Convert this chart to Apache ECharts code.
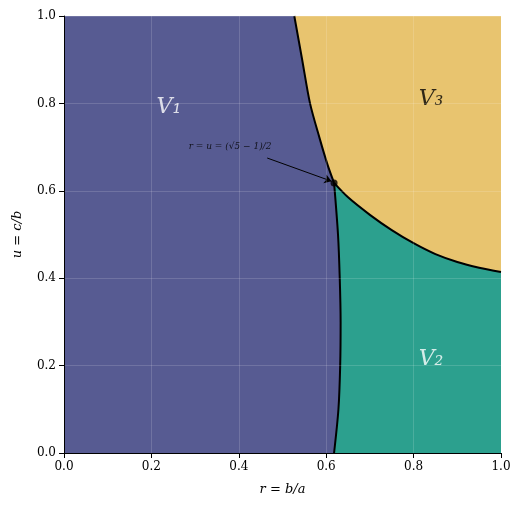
<!DOCTYPE html><html><head><meta charset="utf-8">
<script src="https://cdn.jsdelivr.net/npm/echarts@6/dist/echarts.min.js"></script>
<style>html,body{margin:0;background:#fff}#c{width:523px;height:509px}</style></head><body><div id="c"></div>
<script>
const xTicks=[0,0.2,0.4,0.6,0.8,1.0];
const curveV1V3=[[0.527,1],[0.545,0.9],[0.563,0.8],[0.585,0.72],[0.603,0.66],[0.618,0.618]];
const curveV1V2=[[0.618,0.618],[0.627,0.5],[0.631,0.4],[0.633,0.3],[0.632,0.2],[0.628,0.1],[0.618,0]];
const curveV3V2=[[0.618,0.618],[0.65,0.585],[0.7,0.545],[0.75,0.51],[0.8,0.48],[0.85,0.455],[0.9,0.437],[0.95,0.424],[1,0.414]];
const triple=[0.618,0.618];
const regionLabels=[{n:'V₁',p:[0.24,0.79],c:'#fff'},{n:'V₃',p:[0.84,0.81],c:'#000'},{n:'V₂',p:[0.84,0.215],c:'#fff'}];
const rev=a=>a.slice().reverse();
const V1=[[0,0],[0,1],...curveV1V3,...curveV1V2.slice(1)];
const V3=[[0.527,1],[1,1],...rev(curveV3V2),...rev(curveV1V3).slice(1)];
const V2=[...curveV3V2,[1,0],...rev(curveV1V2)];
function poly(pts,color){return{type:'custom',silent:true,z:1,data:[0],renderItem:(p,api)=>({type:'polygon',shape:{points:pts.map(q=>api.coord(q))},style:{fill:color}})};}
const serif='DejaVu Serif';
function line(d){return{type:'line',data:d,smooth:0.3,symbol:'none',lineStyle:{color:'#000',width:2},z:5};}
const ch=echarts.init(document.getElementById('c'));
ch.setOption({animation:false,
grid:{left:64,right:22,top:16,bottom:56},
xAxis:{type:'value',min:0,max:1,interval:0.2,name:'r = b/a',nameLocation:'middle',nameGap:30,
 nameTextStyle:{fontFamily:serif,fontStyle:'italic',fontSize:13,color:'#000'},
 axisLabel:{formatter:v=>v.toFixed(1),fontFamily:serif,fontSize:12,color:'#000'},
 axisLine:{lineStyle:{color:'#000'}},axisTick:{lineStyle:{color:'#000'}},
 splitLine:{show:true,lineStyle:{color:'rgba(255,255,255,0.15)'}},z:10},
yAxis:{type:'value',min:0,max:1,interval:0.2,name:'u = c/b',nameLocation:'middle',nameGap:40,
 nameTextStyle:{fontFamily:serif,fontStyle:'italic',fontSize:13,color:'#000'},
 axisLabel:{formatter:v=>v.toFixed(1),fontFamily:serif,fontSize:12,color:'#000'},
 axisLine:{show:true,lineStyle:{color:'#000'}},axisTick:{show:true,lineStyle:{color:'#000'}},
 splitLine:{show:true,lineStyle:{color:'rgba(255,255,255,0.15)'}},z:10},
series:[poly(V1,'#575b92'),poly(V3,'#e8c46f'),poly(V2,'#2ca08e'),
 {type:'line',data:[],z:3,markLine:{silent:true,symbol:['none','arrow'],symbolSize:7,lineStyle:{color:'#000',width:1,type:'solid'},label:{show:false},
   data:[[{coord:[0.465,0.675]},{coord:[0.612,0.622]}]]}},
 line(curveV1V3),line(curveV1V2),line(curveV3V2),
 {type:'scatter',data:[triple],symbolSize:7,itemStyle:{color:'#000'},z:6},
 {type:'scatter',data:[[0.38,0.7]],symbolSize:0,z:7,label:{show:true,position:'inside',formatter:'r = u = (√5 − 1)/2',fontFamily:serif,fontStyle:'italic',fontSize:9,color:'#000'}},
 {type:'scatter',symbolSize:0,z:7,data:regionLabels.map(l=>({value:l.p,label:{show:true,position:'inside',formatter:l.n,fontFamily:serif,fontStyle:'italic',fontSize:22,color:l.c}}))}
]});
</script></body></html>
